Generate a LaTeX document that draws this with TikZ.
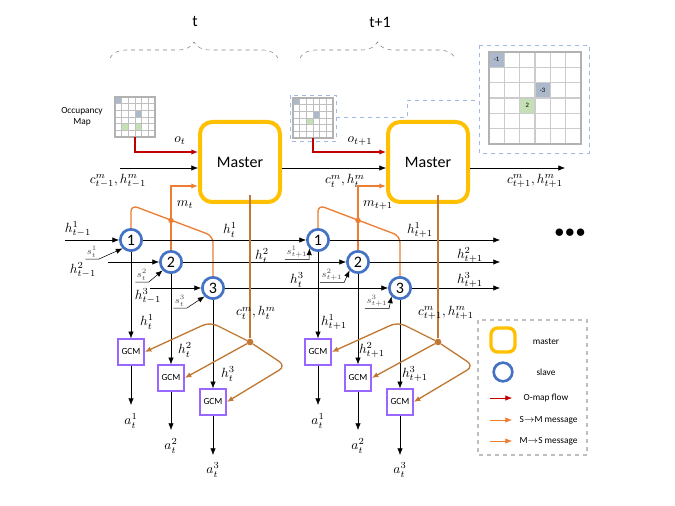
\documentclass[tikz,border=0pt]{standalone}
\usepackage{fontspec}
\setmainfont{Carlito}
\usetikzlibrary{arrows.meta,decorations.pathreplacing}
\definecolor{ored}{RGB}{192,0,0}
\definecolor{oor}{RGB}{237,125,49}
\definecolor{obr}{RGB}{192,120,50}
\definecolor{oyel}{RGB}{255,192,0}
\definecolor{oblu}{RGB}{68,114,196}
\definecolor{opur}{RGB}{153,102,255}
\definecolor{cgray}{RGB}{172,185,202}
\definecolor{cgreen}{RGB}{197,224,180}
\definecolor{dblue}{RGB}{160,185,230}
\newcommand{\ogrid}[4]{% x y size color
  \foreach \i in {0,...,6}{
    \draw[#4] (#1+\i*#3,#2) -- (#1+\i*#3,#2+6*#3);
    \draw[#4] (#1,#2+\i*#3) -- (#1+6*#3,#2+\i*#3);}
  \draw[black!30,line width=0.8pt] (#1,#2) rectangle (#1+6*#3,#2+6*#3);}
\begin{document}
\begin{tikzpicture}[x=0.75pt,y=-0.75pt,
  ar/.style={-{Latex[length=5pt,width=4pt]}},
  master/.style={draw=oyel,line width=3pt,rounded corners=9pt,minimum width=60pt,minimum height=60pt,inner sep=0pt,font=\large},
  slave/.style={circle,draw=oblu,line width=2pt,minimum size=16pt,inner sep=0pt,font=\large},
  gcm/.style={draw=opur,line width=1.5pt,minimum size=19pt,inner sep=0pt,font=\scriptsize},
  lab/.style={font=\normalsize},
  sl/.style={font=\scriptsize,text=black!70,inner sep=1pt},
  dot/.style={circle,fill,inner sep=0pt,minimum size=5pt}]
\useasboundingbox (0,0) rectangle (675,506);
% braces
\draw[gray,dashed,decorate,decoration={brace,amplitude=12pt}] (110,58) -- (278,58);
\draw[gray,dashed,decorate,decoration={brace,amplitude=12pt}] (300,58) -- (455,58);
\node[font=\large] (tl) at (195,22) {t};
\node[font=\large] (tl2) at (380,22) {t+1};
% occupancy map 1
\fill[cgray] (115,97) rectangle +(6.67,6.67);
\fill[cgray] (135,110.3) rectangle +(6.67,6.67);
\fill[cgreen] (121.7,123.7) rectangle +(6.67,6.67);
\fill[cgreen] (135,123.7) rectangle +(6.67,6.67);
\ogrid{115}{97}{6.667}{black!25}
\node[font=\scriptsize,align=center] (om) at (82,117) {Occupancy\\Map};
\coordinate (m1) at (135,137);
% occupancy map 2
\draw[dblue,dashed] (290,95) rectangle (336,141);
\fill[cgray] (293,98) rectangle +(6.67,6.67);
\fill[cgray] (313,111.3) rectangle +(6.67,6.67);
\fill[cgreen] (306.3,118) rectangle +(6.67,6.67);
\ogrid{293}{98}{6.667}{black!25}
\coordinate (m2) at (313,138);
% big map
\draw[dblue,dashed] (479,45) rectangle (589,153);
\fill[cgray] (489,52) rectangle +(15.3,15.3);
\fill[cgray] (535,82.7) rectangle +(15.3,15.3);
\fill[cgreen] (519.7,98) rectangle +(15.3,15.3);
\ogrid{489}{52}{15.33}{black!20,line width=0.8pt}
\node[font=\tiny] (bm1) at (496.6,59.6) {-1};
\node[font=\tiny] (bm3) at (542.6,90.3) {-3};
\node[font=\tiny] (bm2) at (527.3,105.6) {2};
\draw[dblue,dashed] (336,117) -- (407,117) -- (407,100) -- (479,100);
% masters
\node[master] (M1) at (240,162) {Master};
\node[master] (M2) at (428,162) {Master};
% inputs to masters
\draw[ored,ar,line width=0.8pt] (m1) |- ([yshift=7.5pt]M1.west);
\node[lab] (ot) at (180,141) {$o_t$};
\draw[ored,ar,line width=0.8pt] (m2) |- ([yshift=7.5pt]M2.west);
\node[lab] (ot1) at (360,141) {$o_{t+1}$};
\coordinate (cin) at (120,168);
\draw[ar] (cin) -- (M1.west|-cin);
\node[lab] (cl0) at (118,181) {$c^m_{t-1},h^m_{t-1}$};
\draw[ar] (M1.east|-cin) -- (M2.west|-cin);
\node[lab] (cl1) at (345,181) {$c^m_{t},h^m_{t}$};
\coordinate (cout) at (565,168);
\draw[ar] (M2.east|-cin) -- (cout);
\node[lab] (cl2) at (535,181) {$c^m_{t+1},h^m_{t+1}$};
\node[font=\Large] (dots) at (570,233) {$\bullet\!\bullet\!\bullet$};
% slave groups
\foreach \g/\dx/\tp/\sa/\sb/\sc in {a/0/{t}/92/142/180, b/187/{t+1}/297/332/377}{
  \node[slave] (\g1) at (131+\dx,240) {1};
  \node[slave] (\g2) at (171+\dx,262) {2};
  \node[slave] (\g3) at (213+\dx,288) {3};
  \node[gcm] (\g G1) at (131+\dx,352) {GCM};
  \node[gcm] (\g G2) at (171+\dx,378) {GCM};
  \node[gcm] (\g G3) at (213+\dx,402) {GCM};
  \coordinate (\g A1) at (131+\dx,405);
  \coordinate (\g A2) at (171+\dx,430);
  \coordinate (\g A3) at (213+\dx,455);
  \node[lab] at (131+\dx,421) {$a^1_{t}$};
  \node[lab] at (171+\dx,446) {$a^2_{t}$};
  \node[lab] at (213+\dx,470) {$a^3_{t}$};
  \draw[ar] (\g1) -- (\g G1); \draw[ar] (\g G1) -- (\g A1);
  \draw[ar] (\g2) -- (\g G2); \draw[ar] (\g G2) -- (\g A2);
  \draw[ar] (\g3) -- (\g G3); \draw[ar] (\g G3) -- (\g A3);
  \node[lab] at (147+\dx,322) {$h^1_{\tp}$};
  \node[lab] at (185+\dx,350) {$h^2_{\tp}$};
  \node[lab] at (228+\dx,374) {$h^3_{\tp}$};
  % s inputs
  \node[sl] (\g s1) at (\sa,252) {$s^1_{\tp}$};
  \node[sl] (\g s2) at (\sb,275) {$s^2_{\tp}$};
  \node[sl] (\g s3) at (\sc,301) {$s^3_{\tp}$};
  \draw[ar,line width=0.4pt] (\g s1.south west) -- (\g s1.south east) -- (\g1.south west);
  \draw[ar,line width=0.4pt] (\g s2.south west) -- (\g s2.south east) -- (\g2.south west);
  \draw[ar,line width=0.4pt] (\g s3.south west) -- (\g s3.south east) -- (\g3.south west);
  % orange S->M
  \draw[oor,line width=1pt,rounded corners=5pt] (\g1.north) -- (131+\dx,205) -- (213+\dx,236) -- (\g3.north);
  \node[dot,oor,minimum size=4pt] (\g d) at (171+\dx,220.5) {};
}
\draw[oor,ar,line width=1pt] (a2.north) |- ([yshift=-18pt]M1.west);
\draw[oor,ar,line width=1pt] (b2.north) |- ([yshift=-18pt]M2.west);
\node[lab] (mt) at (185,205) {$m_t$};
\node[lab] (mt1) at (378,205) {$m_{t+1}$};
% horizontal hidden flows
\coordinate (h10) at (65,240); \coordinate (h20) at (108,262); \coordinate (h30) at (150,288);
\coordinate (h1e) at (500,240); \coordinate (h2e) at (500,262); \coordinate (h3e) at (500,288);
\draw[ar] (h10) -- (a1); \draw[ar] (h20) -- (a2); \draw[ar] (h30) -- (a3);
\draw[ar] (a1) -- (b1); \draw[ar] (a2) -- (b2); \draw[ar] (a3) -- (b3);
\draw[ar] (b1) -- (h1e); \draw[ar] (b2) -- (h2e); \draw[ar] (b3) -- (h3e);
\node[lab] at (78,229) {$h^1_{t-1}$};
\node[lab] at (83,270) {$h^2_{t-1}$};
\node[lab] at (148,296) {$h^3_{t-1}$};
\node[lab] at (230,230) {$h^1_{t}$};
\node[lab] at (262,256) {$h^2_{t}$};
\node[lab] at (297,280) {$h^3_{t}$};
\node[lab] at (420,230) {$h^1_{t+1}$};
\node[lab] at (470,255) {$h^2_{t+1}$};
\node[lab] at (470,280) {$h^3_{t+1}$};
% master -> slaves (brown)
\foreach \g/\M/\x in {a/M1/250,b/M2/438}{
  \node[dot,obr] (\g D) at (\x,342) {};
  \draw[obr,line width=1pt] (\x,195) -- (\g D);
  \draw[obr,ar,line width=1pt,rounded corners=6pt] (\g D) -- (\x-40,322) -- (\g G1.east);
  \draw[obr,ar,line width=1pt] (\g D) -- (\g G2.east);
  \draw[obr,ar,line width=1pt,rounded corners=6pt] (\g D) -- (\x+36,366) -- (\g G3.east);
}
\node[lab] (cm1) at (256,313) {$c^m_t,h^m_t$};
\node[lab] (cm2) at (446,313) {$c^m_{t+1},h^m_{t+1}$};
% legend
\draw[black!25,dashed,line width=1.2pt] (478,320) rectangle (587,455);
\node[draw=oyel,line width=2.5pt,rounded corners=5pt,minimum size=18pt] (LM) at (503,340) {};
\node[font=\scriptsize] (LMt) at (546,342) {master};
\node[circle,draw=oblu,line width=2pt,minimum size=14pt,inner sep=0pt] (LS) at (503,372) {};
\node[font=\scriptsize] (LSt) at (546,372) {slave};
\coordinate (l1a) at (490,398); \coordinate (l1b) at (512,398);
\coordinate (l2a) at (490,420); \coordinate (l2b) at (512,420);
\coordinate (l3a) at (490,441); \coordinate (l3b) at (512,441);
\draw[ored,ar] (l1a) -- (l1b); \draw[oor,ar] (l2a) -- (l2b); \draw[oor,ar] (l3a) -- (l3b);
\node[font=\scriptsize,anchor=west] (L1) at (519,398) {O-map flow};
\node[font=\scriptsize,anchor=west] (L2) at (515,420) {S$\rightarrow$M message};
\node[font=\scriptsize,anchor=west] (L3) at (515,441) {M$\rightarrow$S message};
\end{tikzpicture}
\end{document}
